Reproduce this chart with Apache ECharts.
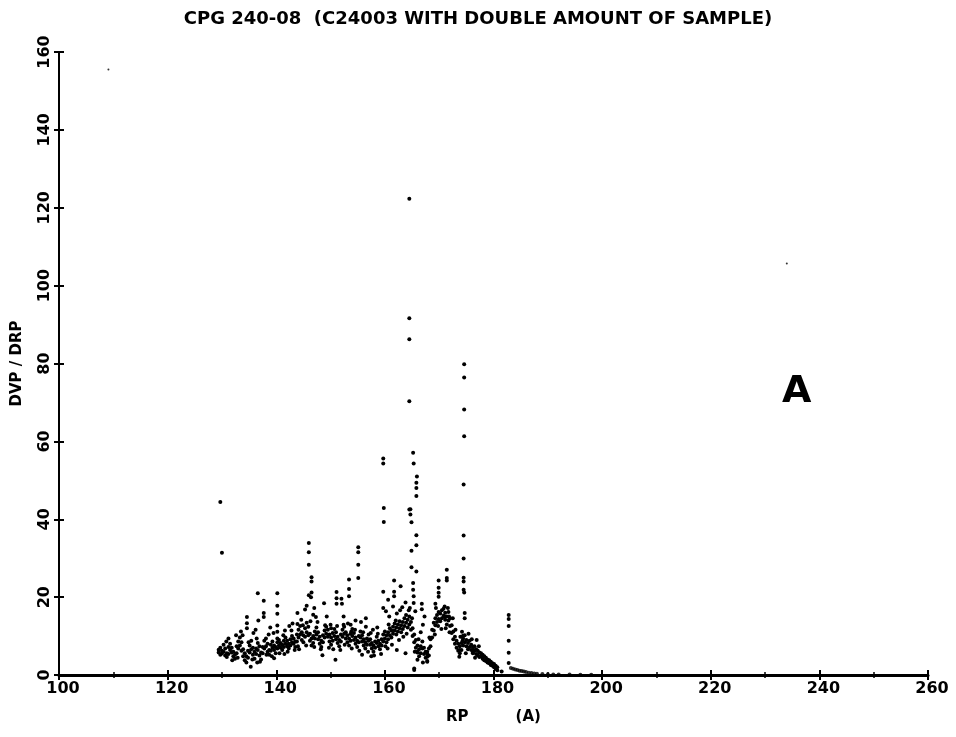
<!DOCTYPE html>
<html><head><meta charset="utf-8">
<script src="https://cdn.jsdelivr.net/npm/echarts@6/dist/echarts.min.js"></script>
<style>html,body{margin:0;padding:0;background:#fff}#c{width:956px;height:737px}</style>
</head><body><div id="c"></div>
<script>
const titleText = 'CPG 240-08  (C24003 WITH DOUBLE AMOUNT OF SAMPLE)';
const xName = 'RP         (A)';
const yName = 'DVP / DRP';
const panelLetter = 'A';
const xMin = 100, xMax = 260, xStep = 20;
const yMin = 0, yMax = 160, yStep = 20;

// dense band: [RP, lower DVP/DRP, upper DVP/DRP]
const bandRows = [
 [129.4,5.8,6.5],[129.7,5.2,7.0],[130.0,5.5,6.2],[130.3,6.0,7.8],[130.6,5.0,6.8],[130.9,4.6,5.6],
 [131.2,5.4,7.2],[131.5,6.4,8.0],[131.8,5.8,7.0],[132.1,4.8,6.0],[132.4,4.2,5.2],[132.7,5.6,7.4],
 [133.0,6.8,8.6],[133.3,7.6,9.6],[133.6,6.2,8.4],[133.9,4.8,6.6],[134.2,3.8,5.6],[134.5,3.2,4.8],
 [134.8,4.4,6.2],[135.1,5.8,7.6],[135.4,6.6,8.8],[135.7,5.2,7.0],[136.0,4.2,6.0],[136.3,5.4,6.8],
 [136.6,6.4,8.2],[136.9,5.0,7.4],[137.2,4.0,5.8],[137.5,5.6,7.2],[137.8,6.8,8.8],[138.1,7.4,9.4],
 [138.4,6.0,8.0],[138.7,5.2,6.4],[139.0,6.2,7.8],[139.3,7.0,8.6],[139.6,6.4,7.6],[139.9,5.6,7.2],
 [140.2,6.8,8.4],[140.5,7.6,9.0],[140.8,7.0,8.2],[141.1,6.4,7.8],[141.4,7.2,8.8],[141.7,8.0,9.6],
 [142.0,7.4,8.8],[142.3,6.8,8.0],[142.6,7.6,9.2],[142.9,8.4,10.0],[143.2,8.0,9.4],[143.5,7.2,8.6],
 [143.8,8.6,10.4],[144.1,9.6,11.6],[144.4,10.4,12.6],[144.7,9.0,11.0],[145.0,8.4,10.2],[145.3,9.8,12.0],
 [145.6,11.0,13.4],[145.9,10.2,12.4],[146.2,8.8,10.6],[146.5,7.6,9.4],[146.8,8.2,10.0],[147.1,9.4,11.2],
 [147.4,10.4,12.2],[147.7,9.2,11.0],[148.0,8.0,9.8],[148.3,7.2,8.8],[148.6,8.4,10.2],[148.9,9.6,11.4],
 [149.2,10.6,12.4],[149.5,9.8,11.6],[149.8,8.6,10.4],[150.1,7.8,9.6],[150.4,8.8,10.8],[150.7,10.0,11.8],
 [151.0,9.2,11.0],[151.3,8.2,9.8],[151.6,7.4,9.0],[151.9,8.6,10.4],[152.2,9.8,11.6],[152.5,10.6,12.4],
 [152.8,9.4,11.0],[153.1,8.4,10.2],[153.4,7.6,9.4],[153.7,8.8,10.6],[154.0,10.0,11.8],[154.3,9.0,10.8],
 [154.6,8.0,9.6],[154.9,7.2,8.8],[155.2,8.4,10.0],[155.5,9.6,11.2],[155.8,8.6,10.2],[156.1,7.6,9.2],
 [156.4,6.8,8.4],[156.7,7.8,9.4],[157.0,8.8,10.4],[157.3,7.8,9.2],[157.6,6.8,8.2],[157.9,6.0,7.6],
 [158.2,7.0,8.6],[158.5,8.2,9.8],[158.8,7.4,8.8],[159.1,6.6,8.0],[159.4,7.6,9.2],[159.7,8.6,10.4],
 [160.0,9.4,11.2],[160.3,8.4,10.2],[160.6,9.2,11.0],[160.9,10.2,12.0],[161.2,9.6,11.4],[161.5,10.6,12.4],
 [161.8,11.4,13.2],[162.1,10.4,12.2],[162.4,11.2,13.0],[162.7,12.0,13.8],[163.0,11.0,12.8],[163.3,11.8,13.6],
 [163.6,12.6,14.6],[163.9,13.4,15.4],[164.2,12.2,14.2],[164.5,13.0,15.0],[164.8,11.6,13.6],[165.1,10.0,12.0],
 [165.4,8.4,10.4],[165.7,7.0,9.0],[166.0,5.8,7.6],[166.3,4.8,6.6],[166.6,5.6,7.4],[166.9,6.8,8.6],
 [167.2,5.4,7.0],[167.5,4.4,6.0],[167.8,3.6,5.4],[168.1,5.0,6.8],[168.4,7.4,9.2],[168.7,9.6,11.6],
 [169.0,11.4,13.4],[169.3,12.8,14.6],[169.6,13.6,15.4],[169.9,14.4,16.2],[170.2,13.8,15.8],[170.5,14.6,16.6],
 [170.8,15.2,17.0],[171.1,14.2,16.0],[171.4,13.0,15.0],[171.7,14.0,16.2],[172.0,12.6,14.6],[172.3,10.8,12.8],
 [172.6,9.2,11.2],[172.9,8.0,9.8],[173.2,7.0,8.8],[173.5,6.2,8.0],[173.8,5.6,7.4],[174.1,6.4,8.2],
 [174.4,7.6,9.4],[174.7,8.4,10.2],[175.0,7.4,9.0],[175.3,6.6,8.2],[175.6,7.2,8.8],[175.9,6.4,7.8],
 [176.2,5.8,7.2],[176.5,6.2,7.4],[176.8,5.4,6.6],[177.1,5.0,6.2],[177.4,4.6,5.8],[177.7,4.8,5.6],
 [178.0,4.2,5.2],[178.3,3.8,4.8],[178.6,3.6,4.4],[178.9,3.2,4.0],[179.2,3.0,3.8],[179.5,2.6,3.4],
 [179.8,2.4,3.0],[180.1,2.0,2.8],[180.4,1.6,2.4],[180.7,1.2,2.0]
];

// loose points scattered around the band
const bandExtra = [
 [130.8,8.6],[131.9,3.8],[132.9,4.4],[133.8,10.2],[134.9,8.4],[135.6,4.0],[136.4,9.4],[137.0,3.4],
 [138.2,5.2],[138.6,10.4],[139.2,4.8],[140.6,5.6],[141.3,10.2],[142.1,6.0],[142.8,11.4],[143.4,6.4],
 [144.0,7.4],[144.9,12.8],[145.5,7.6],[146.3,13.8],[147.0,7.2],[147.6,13.6],[148.2,6.6],[149.0,12.8],
 [149.7,7.0],[150.5,6.6],[151.2,12.6],[151.8,6.4],[152.6,7.8],[153.2,13.2],[153.9,6.8],[154.5,11.6],
 [155.3,6.2],[156.0,11.0],[156.9,6.0],[157.4,10.8],[158.0,5.0],[158.7,10.6],[159.3,5.4],[160.1,7.4],
 [160.7,13.0],[161.3,7.8],[162.0,14.0],[162.6,9.0],[163.4,9.8],[164.0,10.6],[164.4,16.6],[165.0,14.6],
 [165.5,6.0],[166.2,9.2],[167.0,3.2],[168.2,9.6],[169.2,10.4],[169.8,12.6],[170.4,11.8],[171.2,12.0],
 [171.9,11.0],[172.5,14.6],[173.0,11.6],[173.9,9.8],[174.9,5.6],[175.4,10.6],[176.0,9.2],[176.6,4.4],
 [177.3,7.4]
];

// scattered points above / below the band and the vertical runs
const scatterPoints = [
 [129.7,44.4],[130.0,31.4],
 [134.6,14.9],[134.6,13.3],[134.6,12.0],[136.7,14.0],[136.6,21.0],[137.7,19.1],[137.7,15.9],[137.7,14.9],
 [135.8,10.8],[132.6,10.2],[133.5,11.2],[131.2,9.4],[136.2,11.6],[138.9,12.2],[139.5,10.8],
 [140.2,21.0],[140.2,17.8],[140.2,15.7],[140.2,12.7],[140.2,11.1],[140.2,9.4],
 [141.6,11.4],[142.4,12.6],[143.0,13.2],[143.9,15.9],[143.9,13.1],[144.6,14.2],[145.3,16.8],[145.6,17.8],
 [146.0,20.5],[146.4,20.0],[146.5,21.2],[146.0,33.9],[146.0,31.5],[146.0,28.3],[146.5,25.1],[146.5,24.0],
 [147.0,17.2],[146.8,15.5],[147.3,14.9],[148.8,18.4],[149.3,15.0],[150.0,12.9],[150.1,12.0],
 [151.1,21.3],[151.1,19.7],[151.1,18.3],[152.0,19.6],[152.1,18.3],[152.4,15.0],[152.4,12.9],
 [153.4,24.5],[153.4,22.1],[153.4,20.2],[153.7,12.9],[153.8,11.1],
 [155.1,32.8],[155.1,31.5],[155.1,28.3],[155.1,24.9],[156.5,14.6],[156.5,12.4],[155.6,13.6],[154.6,14.0],
 [157.8,11.6],[158.6,12.2],[159.7,21.4],[159.7,17.2],[159.8,42.9],[159.8,39.3],[159.7,55.6],[159.7,54.3],
 [160.6,19.3],[160.2,16.4],[160.8,15.0],[161.7,24.3],[161.7,21.4],[161.7,20.2],[161.5,17.6],[162.2,15.8],
 [162.8,16.6],[163.2,17.4],[163.8,18.6],[162.9,22.8],
 [164.5,122.3],[164.5,91.6],[164.5,86.2],[164.5,70.3],[165.2,57.1],[165.3,54.3],[165.9,51.0],[165.8,49.4],
 [165.8,48.0],[165.8,46.0],[164.5,42.5],[164.7,42.6],[164.7,41.2],[164.9,39.2],[165.8,35.9],[165.8,33.3],
 [164.9,31.9],[164.9,27.7],[165.8,26.6],[165.2,23.6],[165.2,21.9],[165.3,20.2],[165.3,18.5],[164.6,17.2],
 [165.6,16.4],
 [166.8,18.3],[166.8,16.9],[167.3,15.0],[167.0,12.9],[166.6,11.0],
 [169.9,24.3],[169.9,22.4],[169.9,21.1],[169.9,20.1],[169.3,18.3],[169.4,17.2],[171.4,27.0],[171.4,24.9],
 [171.4,24.3],[171.0,17.6],[171.6,17.2],[171.0,15.0],[171.8,15.0],
 [174.6,79.8],[174.6,76.4],[174.6,68.2],[174.6,61.3],[174.5,48.9],[174.5,35.8],[174.5,29.9],[174.5,25.0],
 [174.5,24.0],[174.5,21.9],[174.6,21.2],[174.7,15.9],[174.7,14.6],[174.2,11.1],[174.4,10.1],[174.3,8.8],
 [176.9,9.0],[176.3,6.4],[176.2,5.6],[173.7,6.4],[173.7,4.7],
 [167.8,6.0],[167.8,4.7],[167.8,3.4],[165.4,1.7],[165.4,1.3],[163.8,5.6],[166.0,6.0],[166.0,3.9],
 [135.3,2.1],[136.5,3.2],[150.9,3.9],[148.5,5.1],[139.6,4.3],[141.5,5.4],[144.2,6.6],[155.8,5.2],
 [157.5,4.8],[162.2,6.4],[160.5,6.8],
 [182.8,15.4],[182.8,14.4],[182.8,12.6],[182.8,8.8],[182.8,5.7],[182.8,3.1],[181.5,0.9]
];

// decaying tail near zero
const tailPoints = [
 [183.2,1.8],[183.6,1.6],[184.0,1.4],[184.4,1.3],[184.8,1.1],[185.2,1.0],[185.6,0.9],[186.0,0.8],
 [186.5,0.6],[187.0,0.5],[187.5,0.4],[188.0,0.3],[189.0,0.25],[190.0,0.2],[191.0,0.15],[192.0,0.1],
 [194.0,0.1],[196.0,0.05],[198.0,0.05]
];

// isolated faint points
const faintPoints = [[109.1,155.5],[234.0,105.7]];

const mainData = [];
bandRows.forEach(r => { mainData.push([r[0], r[1]]); mainData.push([r[0], r[2]]); });
bandExtra.forEach(p => mainData.push(p));
scatterPoints.forEach(p => mainData.push(p));

const FONT = 'DejaVu Sans';
const chart = echarts.init(document.getElementById('c'), null, {renderer: 'canvas'});

function xAx(inside, main) {
  return {
    type: 'value', min: xMin, max: xMax, interval: xStep, position: 'bottom',
    name: main ? xName : '', nameLocation: 'middle', nameGap: 35,
    nameTextStyle: {color: '#000', fontSize: 15, fontWeight: 'bold', fontFamily: FONT},
    axisLine: {show: main, onZero: false, lineStyle: {color: '#000', width: 3}},
    axisTick: {show: true, inside: inside, length: 5, lineStyle: {color: '#000', width: 2}},
    minorTick: {show: true, splitNumber: 2, length: 3, lineStyle: {color: '#000', width: 1.5}},
    axisLabel: {show: main, color: '#000', fontSize: 16, fontWeight: 'bold', fontFamily: FONT, margin: 6, padding: [0,0,0,8]},
    splitLine: {show: false}, minorSplitLine: {show: false}
  };
}
function yAx(inside, main) {
  return {
    type: 'value', min: yMin, max: yMax, interval: yStep, position: 'left',
    name: main ? yName : '', nameLocation: 'middle', nameGap: 34, nameRotate: 90,
    nameTextStyle: {color: '#000', fontSize: 15, fontWeight: 'bold', fontFamily: FONT},
    axisLine: {show: main, onZero: false, lineStyle: {color: '#000', width: 2}},
    axisTick: {show: true, inside: inside, length: 5, lineStyle: {color: '#000', width: 2}},
    axisLabel: {show: main, rotate: 90, color: '#000', fontSize: 16, fontWeight: 'bold', fontFamily: FONT, margin: 6},
    splitLine: {show: false}
  };
}

chart.setOption({
  animation: false,
  backgroundColor: '#fff',
  title: {text: titleText, left: 'center', top: 5,
    textStyle: {color: '#000', fontSize: 18, fontWeight: 'bold', fontFamily: FONT}},
  grid: {left: 59, right: 28, top: 52, bottom: 62, containLabel: false},
  xAxis: [xAx(false, true), xAx(true, false)],
  yAxis: [yAx(false, true), yAx(true, false)],
  graphic: [{type: 'text', left: 782, top: 373,
    style: {text: panelLetter, fill: '#000', font: 'bold 38px "DejaVu Sans"'}}],
  series: [
    {type: 'scatter', xAxisIndex: 0, yAxisIndex: 0, data: mainData, symbol: 'circle', symbolSize: 4,
     itemStyle: {color: '#000', opacity: 1}, silent: true},
    {type: 'scatter', xAxisIndex: 0, yAxisIndex: 0, data: tailPoints, symbol: 'circle', symbolSize: 4,
     itemStyle: {color: '#000'}, silent: true},
    {type: 'scatter', xAxisIndex: 0, yAxisIndex: 0, data: faintPoints, symbol: 'circle', symbolSize: 2,
     itemStyle: {color: '#000'}, silent: true}
  ]
});
</script></body></html>
